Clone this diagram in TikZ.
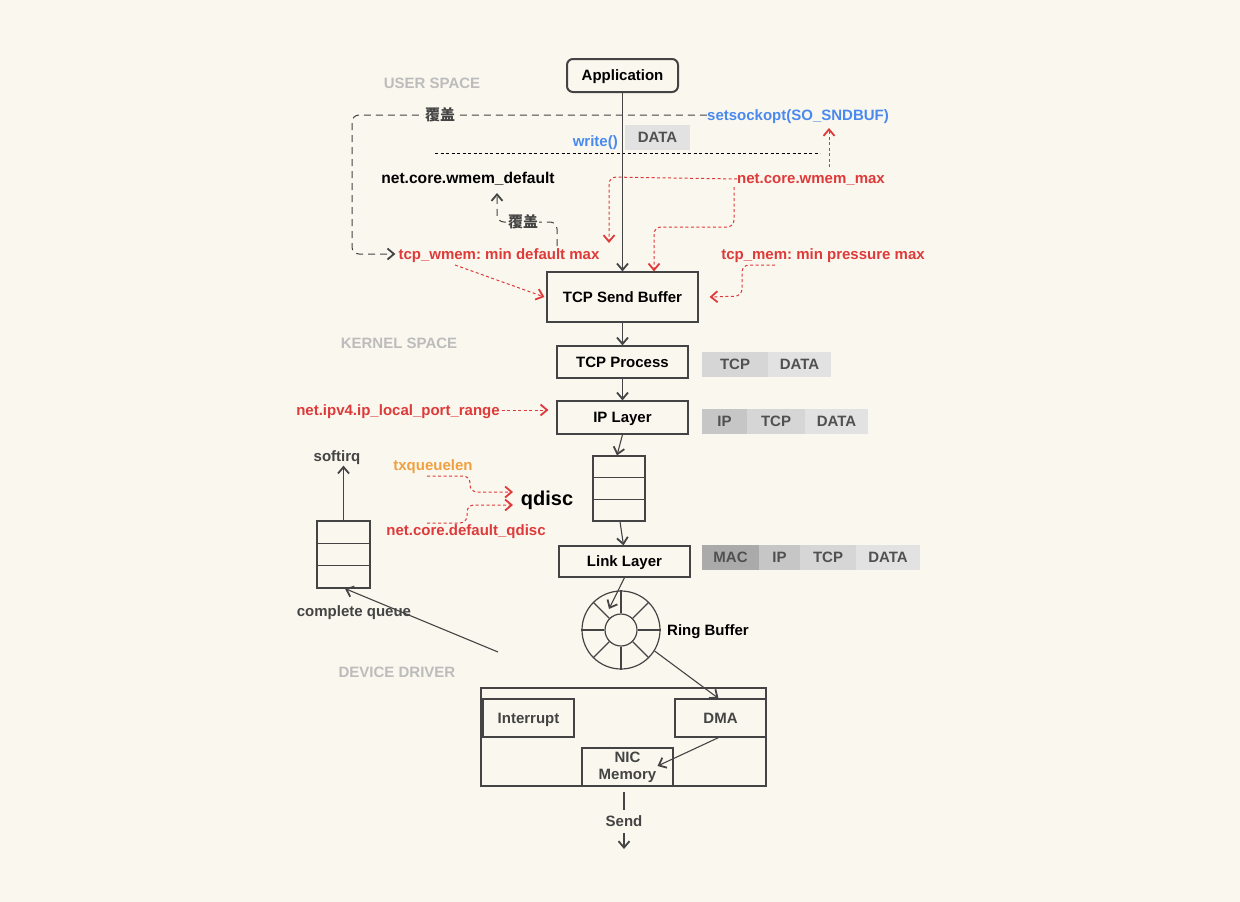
\documentclass[tikz,border=0pt]{standalone}
\usepackage{fontspec}
\setmainfont{Liberation Sans}
\newfontfamily\cjk{Noto Sans CJK SC}
\usetikzlibrary{arrows.meta,calc}
\frenchspacing
\definecolor{bg}{RGB}{250,247,238}
\definecolor{lc}{RGB}{68,68,68}
\definecolor{rd}{RGB}{222,58,58}
\definecolor{bl}{RGB}{74,138,238}
\definecolor{og}{RGB}{240,160,64}
\definecolor{sp}{RGB}{188,188,188}
\definecolor{ht}{RGB}{80,80,80}
\definecolor{hA}{RGB}{170,170,170}
\definecolor{hB}{RGB}{198,198,198}
\definecolor{hC}{RGB}{214,214,214}
\definecolor{hD}{RGB}{226,226,226}
\tikzset{
  txt/.style={font=\bfseries\fontsize{15}{18}\selectfont, inner sep=0pt, text height=10.8pt, text depth=0pt},
  cjkt/.style={font=\cjk\bfseries\fontsize{15}{18}\selectfont, inner sep=1pt, text=lc},
  boxn/.style={txt, draw=lc, line width=1.2pt, rectangle, align=center},
  hdr/.style={txt, text=ht, minimum height=25pt},
  arr/.style={-{Straight Barb[length=6.5pt,width=11pt,line width=1.8pt]}},
  lnk/.style={draw=lc, line width=1.1pt, arr},
  rdash/.style={draw=rd, line width=1pt, dash pattern=on 3pt off 2.5pt, arr, rounded corners=7pt},
  gdash/.style={draw=lc, line width=1pt, dash pattern=on 7pt off 5pt, arr, rounded corners=7pt},
  spc/.style={txt, text=sp},
}
\begin{document}
\begin{tikzpicture}[x=1pt,y=-1pt]
\fill[bg] (0,0) rectangle (1240,902);
\useasboundingbox (0,0) rectangle (1240,902);

% main column
\node[boxn, line width=2pt, rounded corners=6pt, minimum width=111pt, minimum height=33pt] (app) at (622.5,75.5) {Application};
\node[boxn, minimum width=151pt, minimum height=50pt] (tsb) at (622.5,297) {TCP Send Buffer};
\node[boxn, minimum width=131pt, minimum height=32pt] (tcpp) at (622.5,362) {TCP Process};
\node[boxn, minimum width=131pt, minimum height=33pt] (ipl) at (622.5,417.5) {IP Layer};
\node[boxn, minimum width=52pt, minimum height=65pt] (q1) at (619,488.5) {};
\node[boxn, minimum width=131pt, minimum height=31pt] (lnkl) at (624.5,561.5) {Link Layer};
\node[draw=lc, line width=1.2pt, circle, minimum size=78pt, inner sep=0pt] (ring) at (621,630) {};
\node[draw=lc, line width=1.2pt, circle, minimum size=32pt, inner sep=0pt] (ringin) at (621,630) {};
\node[boxn, minimum width=53pt, minimum height=67pt] (cq) at (343.5,554.5) {};
\node[boxn, minimum width=285pt, minimum height=98pt] (nic) at (623.5,737) {};
\node[boxn, text=lc, minimum width=91pt, minimum height=38pt] (intr) at (528.5,718) {Interrupt};
\node[boxn, text=lc, minimum width=91pt, minimum height=38pt] (dma) at (720.5,718) {DMA};
\node[boxn, text=lc, minimum width=91pt, minimum height=38pt, text height=, text depth=] (nicm) at (627.5,767) {NIC\\[-1pt]Memory};

% queue dividers
\foreach \n in {q1,cq}{
  \draw[lc, line width=1.2pt] ($(\n.north west)!1/3!(\n.south west)$) -- ($(\n.north east)!1/3!(\n.south east)$);
  \draw[lc, line width=1.2pt] ($(\n.north west)!2/3!(\n.south west)$) -- ($(\n.north east)!2/3!(\n.south east)$);
}
% ring spokes
\foreach \a in {0,45,...,315} \draw[lc, line width=1.2pt] (ring.\a) -- (ringin.\a);

% headers
\node[hdr, fill=hD, minimum width=65pt] (d0) at (657.5,137.5) {DATA};
\node[hdr, fill=hC, minimum width=66pt] (h1a) at (735,364.5) {TCP};
\node[hdr, fill=hD, minimum width=63pt] (h1b) at (799.5,364.5) {DATA};
\node[hdr, fill=hB, minimum width=45pt] (h2a) at (724.5,421.5) {IP};
\node[hdr, fill=hC, minimum width=58pt] (h2b) at (776,421.5) {TCP};
\node[hdr, fill=hD, minimum width=63pt] (h2c) at (836.5,421.5) {DATA};
\node[hdr, fill=hA, minimum width=57pt] (h3a) at (730.5,557.5) {MAC};
\node[hdr, fill=hB, minimum width=41pt] (h3b) at (779.5,557.5) {IP};
\node[hdr, fill=hC, minimum width=56pt] (h3c) at (828,557.5) {TCP};
\node[hdr, fill=hD, minimum width=64pt] (h3d) at (888,557.5) {DATA};

% labels
\node[spc] (us) at (432,83) {USER SPACE};
\node[spc] (ks) at (399,343) {KERNEL SPACE};
\node[spc] (dd) at (397,672) {DEVICE DRIVER};
\node[txt, text=bl] (sso) at (798,115) {setsockopt(SO\_SNDBUF)};
\node[txt, text=bl, anchor=east] (wr) at (618,141) {write()};
\node[txt, font=\bfseries\fontsize{15.6}{18}\selectfont] (wdef) at (468,178) {net.core.wmem\_default};
\node[txt, text=rd] (wmax) at (811,178) {net.core.wmem\_max};
\node[txt, text=rd] (twm) at (499,254) {tcp\_wmem: min default max};
\node[txt, text=rd] (tm) at (823,254) {tcp\_mem: min pressure max};
\node[txt, text=rd] (port) at (398,410) {net.ipv4.ip\_local\_port\_range};
\node[txt, text=og] (txq) at (433,465) {txqueuelen};
\node[txt, font=\bfseries\fontsize{20}{22}\selectfont, text height=14.4pt] (qd) at (547,498) {qdisc};
\node[txt, text=rd] (dq) at (466,530) {net.core.default\_qdisc};
\node[txt, text=lc] (sirq) at (337,456) {softirq};
\node[txt, text=lc] (cql) at (354,611) {complete queue};
\node[txt] (rbl) at (708,630) {Ring Buffer};
\node[txt, text=lc] (send) at (624,821) {Send};

% black dashed separator
\coordinate (s1) at (435,153);
\coordinate (s2) at (820,153);
\draw[black, line width=1pt, dash pattern=on 3pt off 2.5pt] (s1) -- (s2);

% main arrows
\draw[lnk] (app.south) -- (tsb.north);
\draw[lnk] (tsb.south) -- (tcpp.north);
\draw[lnk] (tcpp.south) -- (ipl.north);
\draw[lnk] (ipl.south) -- ([xshift=-2pt]q1.north);
\draw[lnk] ([xshift=1pt]q1.south) -- ([xshift=-1pt]lnkl.north);
\draw[lnk] (lnkl.south) -- (609,609);
\draw[lnk] (ring.-32) -- ([xshift=-2pt]dma.north);
\draw[lnk] ([xshift=-2pt]dma.south) -- ($(nicm.center)+(30,-1)$);
\draw[lnk] (cq.north) -- ([yshift=-4pt]sirq.south -| cq.north);
\coordinate (cqs) at (498,652);
\draw[lnk] (cqs) -- ([xshift=1.5pt]cq.south);
\coordinate (sd1) at (624,792);
\coordinate (sd2) at (624,810);
\coordinate (sd3) at (624,833);
\coordinate (sd4) at (624,849);
\draw[draw=lc, line width=1.1pt] (sd1) -- (sd2);
\draw[lnk] (sd3) -- (sd4);

% gray dashed override arrows
\draw[gdash] (sso.west) -- (352,115) -- (352,254) -- ([xshift=-3pt]twm.west);
\node[cjkt, fill=bg] (cov1) at (440,115) {覆盖};
\draw[gdash] (557,246) -- (557,222) -- (497,222) -- (497,193);
\node[cjkt, fill=bg] (cov2) at (523,222) {覆盖};

% red dashed config arrows
\draw[rdash] (829,167) -- (829,128);
\draw[rdash] ([yshift=-1pt]wmax.west) -- (609,177) -- (609,243);
\draw[rdash] (734,187) -- (734,227) -- (654,227) -- ([xshift=31.5pt]tsb.north);
\draw[rdash, rounded corners=0pt] (455,265) -- ([xshift=-2pt]tsb.west);
\draw[rdash] (775,265) -- (742,265) -- (742,296) -- ([xshift=11pt]tsb.east);
\draw[rdash] ([xshift=2pt]port.east) -- ([xshift=-8pt]port.east -| ipl.west);
\draw[rdash] (427,476) -- (470,476) -- (470,492) -- (513,492);
\draw[rdash] (427,523) -- (467,523) -- (467,505) -- (513,505);
\end{tikzpicture}
\end{document}
